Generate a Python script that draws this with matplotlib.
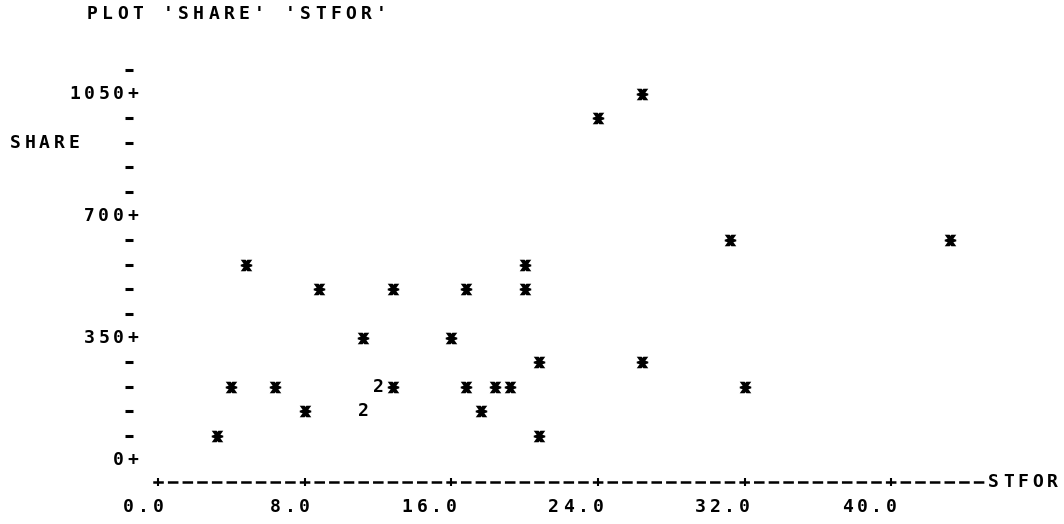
import matplotlib.pyplot as plt
import numpy as np
from matplotlib.path import Path
from matplotlib.ticker import FixedLocator

# STFOR / SHARE points as printed on the character grid
stfor = [3.2, 4.0, 4.8, 6.4, 8.0, 8.8, 11.2, 12.8, 12.8, 16.0, 16.8, 16.8, 17.6,
         18.4, 19.2, 20.0, 20.0, 20.8, 20.8, 24.0, 26.4, 26.4, 31.2, 32.0, 43.2]
share = [70, 210, 560, 210, 140, 490, 350, 210, 490, 350, 490, 210, 140,
         210, 210, 560, 490, 280, 70, 980, 1050, 280, 630, 210, 630]

# cells holding more than one point are printed as the count
stfor_multi = [11.2, 12.0]
share_multi = [140, 210]
counts = [2, 2]

x_ticks = [0, 8, 16, 24, 32, 40]
x_labels = ['0.0', '8.0', '16.0', '24.0', '32.0', '40.0']
y_ticks = [0, 350, 700, 1050]
y_labels = ['0', '350', '700', '1050']

COL = 0.8          # one character column in STFOR units
FONT = dict(family='DejaVu Sans Mono', weight='bold', fontsize=13, color='black')

fig = plt.figure(figsize=(10.64, 5.24), dpi=100)
ax = fig.add_axes([0, 0, 1, 1])
ax.set_xlim(-8.62, 49.43)
ax.set_ylim(-183.6, 1319.6)


def put(x, y, s, step=COL, right=False):
    # print a string one character per column, like the line printer did
    if right:
        x = x - (len(s) - 1) * step
    for i, ch in enumerate(s):
        ax.text(x + i * step, y, ch, ha='center', va='center', clip_on=False, **FONT)


# the printer's star symbol
star = Path([(-1, 1), (-0.15, 1), (0, 0.8), (0.15, 1), (1, 1), (0.5, 0.3), (1, 0.15),
             (1, -0.15), (0.5, -0.3), (1, -1), (0.15, -1), (0, -0.8), (-0.15, -1),
             (-1, -1), (-0.5, -0.3), (-1, -0.15), (-1, 0.15), (-0.5, 0.3), (-1, 1)])
ax.plot(stfor, share, linestyle='none', marker=star, markersize=8.3,
        markeredgewidth=0, color='black')
for xv, yv, n in zip(stfor_multi, share_multi, counts):
    ax.text(xv, yv, str(n), ha='center', va='center', **FONT)

# y axis: only the '-' marks, no line
ax.spines['left'].set_position(('data', -1.6))
ax.spines['left'].set_visible(False)
ax.spines['top'].set_visible(False)
ax.spines['right'].set_visible(False)
ax.yaxis.set_major_locator(FixedLocator(y_ticks))
ax.yaxis.set_minor_locator(FixedLocator(np.arange(70, 1121, 70)))
ax.tick_params(axis='y', which='major', length=0, labelleft=False)
ax.tick_params(axis='y', which='minor', direction='inout', length=5.8, width=2.2)

# x axis: dashed line with '+' at the labelled columns
bottom = ax.spines['bottom']
bottom.set_position(('data', -63))
bottom.set_bounds(-0.22, 45.02)
bottom.set_linewidth(1.8)
bottom.set_linestyle((0, (5.8 / 1.8, 4.75 / 1.8)))
ax.set_xticks(x_ticks)
ax.tick_params(axis='x', direction='inout', length=5.8, width=1.5, labelbottom=False)

for v, lab in zip(y_ticks, y_labels):
    put(-1.36, v, lab + '+', right=True)
for v, lab in zip(x_ticks, x_labels):
    put(v, -135, lab, right=True)

put(45.6, -63, 'STFOR')
put(-7.8, 910, 'SHARE')
put(-3.6, 1279, "PLOT 'SHARE' 'STFOR'", step=0.831)

fig.savefig('out.png', dpi=100, facecolor='white')
